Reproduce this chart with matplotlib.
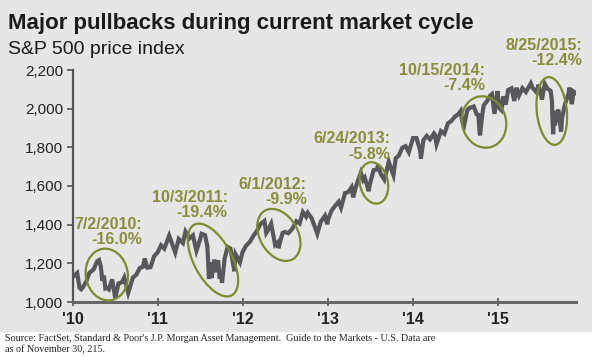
import numpy as np
import pandas as pd
import matplotlib
matplotlib.use("Agg")
import matplotlib.pyplot as plt
import matplotlib.transforms as mtransforms
from matplotlib.patches import Ellipse, Rectangle

# S&P 500 closes (approx.)
dates = [
    "2010-01-04", "2010-01-19", "2010-01-29", "2010-02-05", "2010-02-12", "2010-02-26",
    "2010-03-12", "2010-03-31", "2010-04-15", "2010-04-23", "2010-04-30", "2010-05-07",
    "2010-05-14", "2010-05-20", "2010-05-25", "2010-06-04", "2010-06-18", "2010-06-30",
    "2010-07-02", "2010-07-15", "2010-07-30", "2010-08-09", "2010-08-26", "2010-09-15",
    "2010-09-30", "2010-10-15", "2010-10-29", "2010-11-05", "2010-11-16", "2010-11-30",
    "2010-12-15", "2010-12-31",
    "2011-01-14", "2011-01-28", "2011-02-18", "2011-03-16", "2011-03-31", "2011-04-18",
    "2011-04-29", "2011-05-16", "2011-05-31", "2011-06-15", "2011-06-30", "2011-07-07",
    "2011-07-22", "2011-08-01", "2011-08-08", "2011-08-15", "2011-08-19", "2011-08-31",
    "2011-09-09", "2011-09-16", "2011-09-22", "2011-09-30", "2011-10-03", "2011-10-14",
    "2011-10-27", "2011-11-08", "2011-11-25", "2011-11-30", "2011-12-19", "2011-12-30",
    "2012-01-13", "2012-01-31", "2012-02-15", "2012-02-29", "2012-03-15", "2012-04-02",
    "2012-04-10", "2012-04-20", "2012-05-01", "2012-05-18", "2012-05-31", "2012-06-01",
    "2012-06-19", "2012-06-29", "2012-07-13", "2012-07-31", "2012-08-17", "2012-08-31",
    "2012-09-14", "2012-09-28", "2012-10-05", "2012-10-22", "2012-11-15", "2012-11-30",
    "2012-12-18", "2012-12-28", "2012-12-31",
    "2013-01-15", "2013-01-31", "2013-02-15", "2013-02-25", "2013-03-14", "2013-03-28",
    "2013-04-11", "2013-04-18", "2013-04-30", "2013-05-21", "2013-05-31", "2013-06-07",
    "2013-06-24", "2013-06-28", "2013-07-15", "2013-07-31", "2013-08-02", "2013-08-15",
    "2013-08-30", "2013-09-18", "2013-09-30", "2013-10-08", "2013-10-18", "2013-10-31",
    "2013-11-15", "2013-11-29", "2013-12-13", "2013-12-31",
    "2014-01-15", "2014-01-31", "2014-02-03", "2014-02-14", "2014-02-28", "2014-03-14",
    "2014-03-31", "2014-04-04", "2014-04-11", "2014-04-30", "2014-05-15", "2014-05-30",
    "2014-06-13", "2014-06-30", "2014-07-15", "2014-07-24", "2014-07-31", "2014-08-07",
    "2014-08-21", "2014-08-29", "2014-09-18", "2014-09-30", "2014-10-08", "2014-10-13",
    "2014-10-15", "2014-10-24", "2014-10-31", "2014-11-14", "2014-11-28", "2014-12-05",
    "2014-12-16", "2014-12-29", "2014-12-31",
    "2015-01-06", "2015-01-15", "2015-01-22", "2015-02-02", "2015-02-13", "2015-02-27",
    "2015-03-11", "2015-03-20", "2015-03-31", "2015-04-15", "2015-04-30", "2015-05-21",
    "2015-05-29", "2015-06-15", "2015-06-23", "2015-07-08", "2015-07-20", "2015-07-31",
    "2015-08-14", "2015-08-20", "2015-08-21", "2015-08-25", "2015-08-28", "2015-09-01",
    "2015-09-16", "2015-09-28", "2015-10-02", "2015-10-15", "2015-10-30", "2015-11-03",
    "2015-11-13", "2015-11-20", "2015-11-30",
]
prices = [
    1133, 1150, 1074, 1066, 1075, 1104,
    1150, 1169, 1211, 1217, 1187, 1110,
    1136, 1071, 1074, 1065, 1117, 1031,
    1022, 1096, 1102, 1127, 1047, 1126,
    1141, 1176, 1183, 1225, 1178, 1180,
    1236, 1258,
    1293, 1276, 1343, 1256, 1326, 1305,
    1364, 1329, 1345, 1265, 1321, 1353,
    1346, 1287, 1119, 1204, 1124, 1219,
    1154, 1216, 1130, 1131, 1099, 1224,
    1285, 1276, 1159, 1247, 1205, 1258,
    1289, 1312, 1343, 1366, 1402, 1419,
    1358, 1378, 1405, 1295, 1310, 1278,
    1357, 1362, 1356, 1379, 1418, 1406,
    1465, 1441, 1461, 1433, 1353, 1416,
    1446, 1402, 1426,
    1472, 1498, 1519, 1488, 1563, 1569,
    1593, 1541, 1598, 1669, 1631, 1643,
    1573, 1606, 1682, 1686, 1709, 1661,
    1633, 1725, 1682, 1656, 1744, 1757,
    1798, 1806, 1775, 1848,
    1848, 1783, 1742, 1838, 1859, 1841,
    1872, 1865, 1816, 1884, 1870, 1924,
    1936, 1960, 1973, 1988, 1931, 1910,
    1992, 2003, 2011, 1972, 1968, 1875,
    1862, 1964, 2018, 2039, 2068, 2075,
    1973, 2091, 2059,
    2003, 1992, 2063, 2021, 2097, 2105,
    2040, 2108, 2068, 2106, 2086, 2131,
    2107, 2084, 2124, 2047, 2128, 2104,
    2092, 2036, 1971, 1868, 1989, 1914,
    1996, 1882, 1951, 2024, 2079, 2109,
    2023, 2089, 2080,
]

year_ticks = ["2010-01-01", "2011-01-01", "2012-01-01", "2013-01-01", "2014-01-01", "2015-01-01"]
year_labels = ["'10", "'11", "'12", "'13", "'14", "'15"]
y_ticks = [1000, 1200, 1400, 1600, 1800, 2000, 2200]

# pullback labels and the rings drawn round each dip
pullbacks = ["7/2/2010:\n-16.0%", "10/3/2011:\n-19.4%", "6/1/2012:\n-9.9%",
             "6/24/2013:\n-5.8%", "10/15/2014:\n-7.4%", "8/25/2015:\n-12.4%"]
label_dates = ["2010-10-25", "2011-10-27", "2012-10-01", "2013-09-24", "2014-11-06", "2015-12-28"]
label_prices = [1362, 1502, 1569, 1805, 2159, 2288]
ring_dates = ["2010-05-26", "2011-08-25", "2012-06-03", "2013-07-16", "2014-11-01", "2015-08-19"]
ring_prices = [1142, 1217, 1347, 1616, 1931, 1988]
ring_w = [42, 38, 38, 28, 44, 30]      # pixels
ring_h = [52, 80, 56, 42, 52, 68]
ring_angle = [10, 28, 30, 12, 15, 6]

GREEN_TXT = "#8a8d3c"
GREEN_RING = "#7e8a2c"
LINE = "#58585c"
BG = "#e6e6e6"
FONT = ["Liberation Sans", "DejaVu Sans"]

fig = plt.figure(figsize=(6.0, 3.57), dpi=100, facecolor="white")
fig.patches.append(Rectangle((0, 1 - 332 / 357), 592 / 600, 332 / 357,
                             transform=fig.transFigure, facecolor=BG,
                             edgecolor="none", zorder=-10))

ax = fig.add_axes([73 / 600, 1 - 302 / 357, (576 - 73) / 600, (302 - 70) / 357])
ax.set_facecolor("none")

x = pd.to_datetime(dates)
ax.plot(x, prices, color=LINE, lw=3.0, solid_joinstyle="miter", zorder=3)

ax.set_ylim(1000, 2200)
ax.set_xlim(pd.Timestamp("2010-01-01"), pd.Timestamp("2015-12-01"))
ax.set_yticks(y_ticks)
ax.set_yticklabels([f"{v:,}" for v in y_ticks])
ax.set_xticks(pd.to_datetime(year_ticks))
ax.set_xticklabels(year_labels, fontweight="bold")

for s in ["top", "right"]:
    ax.spines[s].set_visible(False)
ax.spines["left"].set_color("#555555")
ax.spines["left"].set_linewidth(1.6)
ax.spines["bottom"].set_color("#666666")
ax.spines["bottom"].set_linewidth(2.2)
ax.tick_params(axis="y", direction="out", length=4, width=1.2, color="#555555",
               labelsize=11, labelcolor="#222222", pad=3)
ax.tick_params(axis="x", direction="inout", length=6, width=1.2, color="#555555",
               labelsize=11.5, labelcolor="#222222", pad=4)
for lab in ax.get_yticklabels() + ax.get_xticklabels():
    lab.set_family(FONT)

for txt, ld, lp in zip(pullbacks, label_dates, label_prices):
    ax.text(pd.Timestamp(ld), lp, txt, ha="right", va="center", multialignment="right",
            color=GREEN_TXT, fontsize=11.5, fontweight="bold", family=FONT,
            linespacing=1.05, clip_on=False, zorder=4)

for rd, rp, w, h, a in zip(ring_dates, ring_prices, ring_w, ring_h, ring_angle):
    cx = ax.xaxis.convert_units(pd.Timestamp(rd))
    tr = fig.dpi_scale_trans + mtransforms.ScaledTranslation(cx, rp, ax.transData)
    ax.add_patch(Ellipse((0, 0), w / 100, h / 100, angle=a, fill=False,
                         edgecolor=GREEN_RING, lw=1.6, transform=tr, zorder=5))

fig.text(8 / 600, 1 - 29 / 357, "Major pullbacks during current market cycle",
         ha="left", va="baseline", fontsize=16, fontweight="bold", color="#1a1a1a", family=FONT)
fig.text(8 / 600, 1 - 54 / 357, "S&P 500 price index",
         ha="left", va="baseline", fontsize=14, color="#1a1a1a", family=FONT)
fig.text(5 / 600, 1 - 334 / 357,
         "Source: FactSet, Standard & Poor's J.P. Morgan Asset Management.  Guide to the Markets - U.S. Data are\nas of November 30, 215.",
         ha="left", va="top", fontsize=7.3, color="#222222", linespacing=1.2,
         family=["Liberation Serif", "DejaVu Serif"])

fig.savefig("out.png", dpi=100)
